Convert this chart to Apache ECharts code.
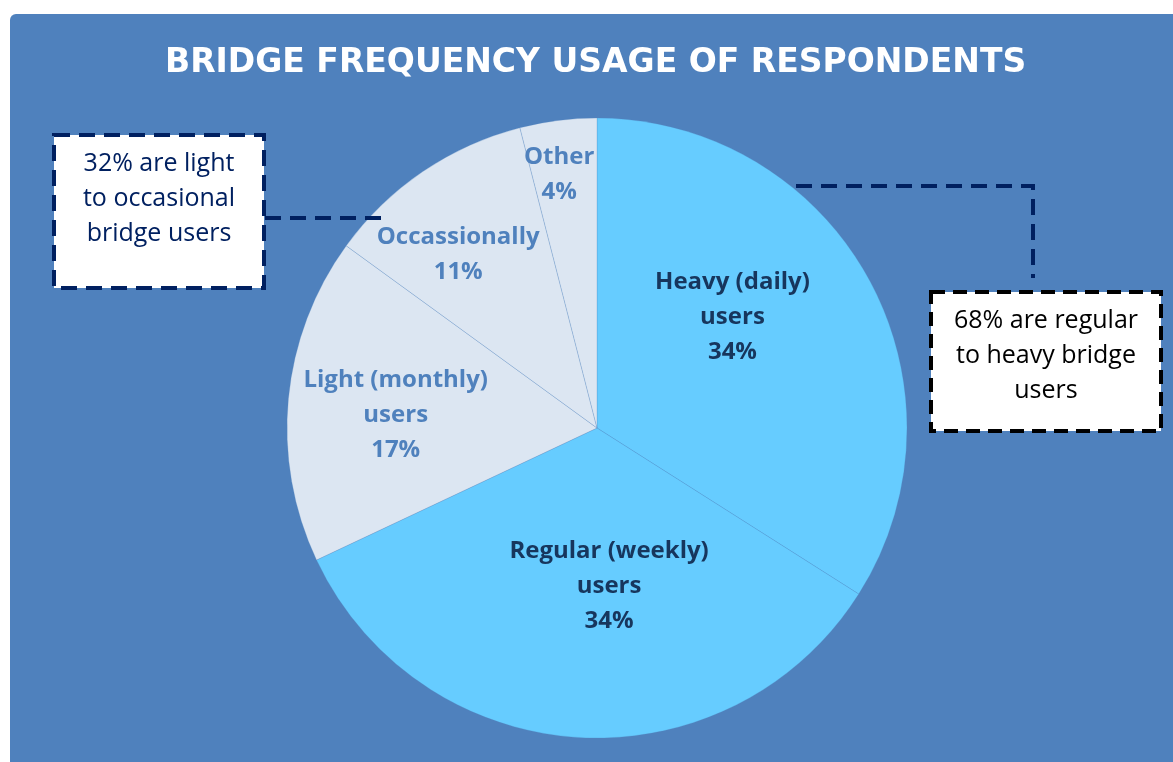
<!DOCTYPE html>
<html>
<head>
<meta charset="utf-8">
<script src="https://cdn.jsdelivr.net/npm/echarts@6/dist/echarts.min.js"></script>
<style>
html,body{margin:0;padding:0;background:#fff;}
#chart{width:1173px;height:762px;}
</style>
</head>
<body>
<div id="chart"></div>
<script>
// ---- data ----
const titleText = 'BRIDGE FREQUENCY USAGE OF RESPONDENTS';
const categories = ['Heavy (daily)\nusers', 'Regular (weekly)\nusers', 'Light (monthly)\nusers', 'Occassionally', 'Other'];
const values = [34, 34, 17, 11, 4];
const leftNote = '32% are light\nto occasional\nbridge users';
const rightNote = '68% are regular\nto heavy bridge\nusers';

// ---- styling ----
const sliceColors = ['#66CCFF', '#66CCFF', '#DCE6F2', '#DCE6F2', '#DCE6F2'];
const labelColors = ['#17365D', '#17365D', '#4F81BD', '#4F81BD', '#4F81BD'];
const labelNudge = [[-3, -35], [22, 0], [-44, 2], [-50, -43], [-18, -97]];
const FONT = 'Open Sans';

const chart = echarts.init(document.getElementById('chart'), null, {renderer: 'canvas'});

const dataItems = categories.map((c, i) => ({
  name: c,
  value: values[i],
  itemStyle: {color: sliceColors[i]},
  label: {color: labelColors[i], offset: labelNudge[i]}
}));

const option = {
  backgroundColor: '#ffffff',
  animation: false,
  title: {
    text: titleText,
    left: 165,
    top: 47,
    padding: 0,
    textStyle: {color: '#ffffff', fontFamily: 'DejaVu Sans', fontWeight: 'bold', fontSize: 33}
  },
  graphic: [
    {type: 'rect', z: -10, shape: {x: 10, y: 14, width: 1170, height: 760, r: 6}, style: {fill: '#4F81BD'}},
    // left callout
    {type: 'polyline', z: 100, shape: {points: [[265, 218], [382, 218]]},
      style: {stroke: '#002060', lineWidth: 4, lineDash: [16, 9], fill: null}},
    {type: 'rect', z: 100, shape: {x: 54, y: 135, width: 210, height: 153},
      style: {fill: '#ffffff', stroke: '#002060', lineWidth: 4, lineDash: [16, 9]}},
    {type: 'text', z: 101, x: 159, y: 199,
      style: {text: leftNote, fill: '#002060', font: '25px "' + FONT + '"', align: 'center', verticalAlign: 'middle', lineHeight: 35}},
    // right callout
    {type: 'polyline', z: 100, shape: {points: [[796, 186], [1033, 186], [1033, 278]]},
      style: {stroke: '#002060', lineWidth: 4, lineDash: [16, 9], fill: null}},
    {type: 'rect', z: 100, shape: {x: 931, y: 292, width: 230, height: 139},
      style: {fill: '#ffffff', stroke: '#000000', lineWidth: 4, lineDash: [14, 8]}},
    {type: 'text', z: 101, x: 1046, y: 356,
      style: {text: rightNote, fill: '#000000', font: '25px "' + FONT + '"', align: 'center', verticalAlign: 'middle', lineHeight: 35}}
  ],
  series: [{
    type: 'pie',
    center: [597, 428],
    radius: 310,
    startAngle: 90,
    clockwise: true,
    avoidLabelOverlap: false,
    itemStyle: {borderColor: 'rgba(79,129,189,0.3)', borderWidth: 0.8},
    emphasis: {disabled: true},
    label: {
      show: true,
      position: 'inside',
      formatter: '{b}\n{c}%',
      fontFamily: FONT,
      fontWeight: 'bold',
      fontSize: 24,
      lineHeight: 35,
      align: 'center'
    },
    labelLine: {show: false},
    data: dataItems
  }]
};
chart.setOption(option);
</script>
</body>
</html>
